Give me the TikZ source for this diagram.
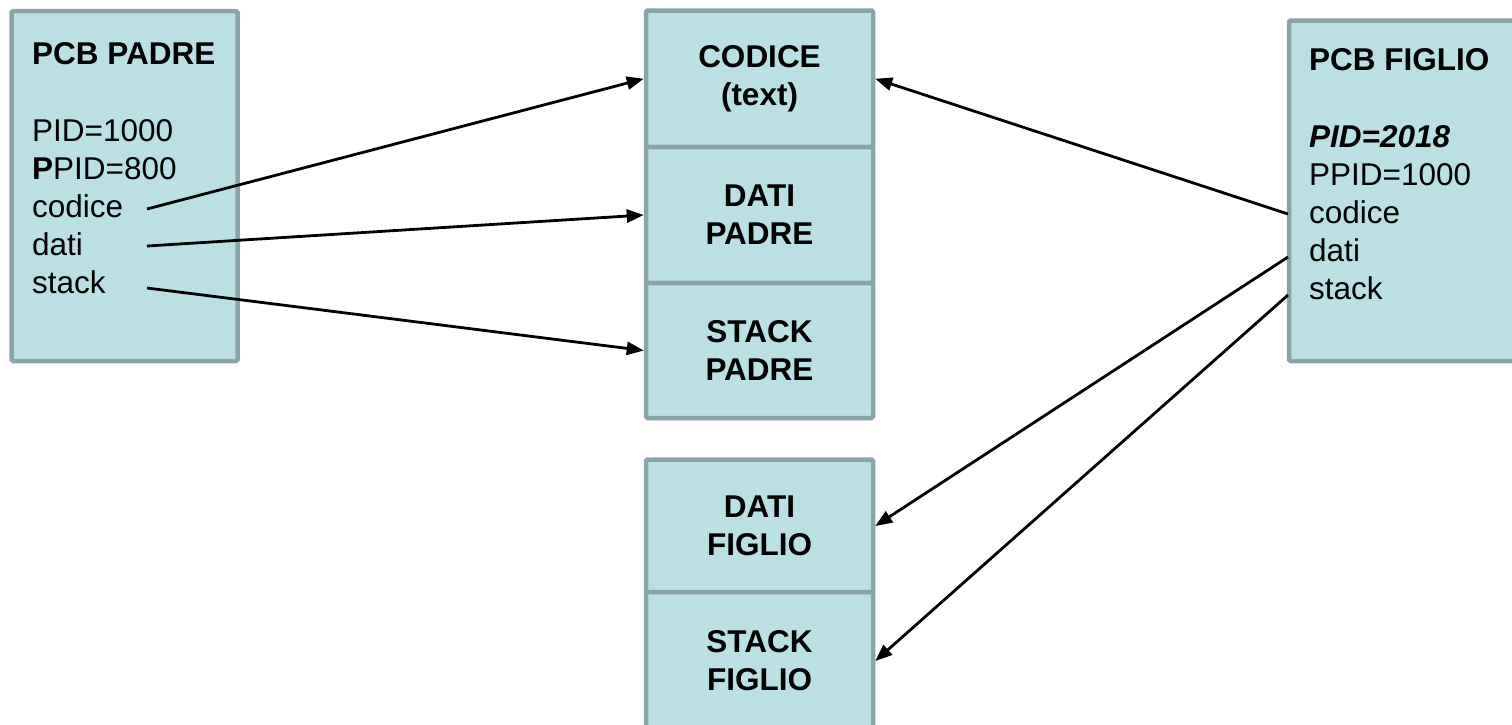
\documentclass[tikz,border=0pt]{standalone}
\usepackage{fontspec}
\setmainfont{Liberation Sans}
\usetikzlibrary{arrows.meta}
\definecolor{boxfill}{RGB}{187,224,227}
\definecolor{boxline}{RGB}{139,164,167}
\begin{document}
\begin{tikzpicture}[x=1pt,y=-1pt,
  membox/.style={draw=boxline, fill=boxfill, line width=4.5pt, rounded corners=1.5pt,
    minimum width=227pt, inner sep=0pt, font=\fontsize{31.5}{38}\selectfont\bfseries, align=center},
  pcbbox/.style={draw=boxline, fill=boxfill, line width=4.5pt, rounded corners=1.5pt, inner sep=0pt},
  txt/.style={anchor=base west, inner sep=0pt, font=\fontsize{31.5}{38}\selectfont},
  ttl/.style={anchor=base west, inner sep=0pt, font=\fontsize{31.5}{38}\selectfont\bfseries},
  link/.style={line width=2.8pt, -{Triangle[length=17pt,width=13pt]}}]
\useasboundingbox (0,0) rectangle (1512,724);
% PCB boxes
\node[pcbbox, minimum width=226pt, minimum height=350pt] (padre) at (124.5,186) {};
\node[pcbbox, minimum width=233pt, minimum height=340.5pt] (figlio) at (1405.5,190.75) {};
% memory boxes
\node[membox, minimum height=136.5pt] (codice) at (759.5,78.75) {CODICE\\(text)};
\node[membox, minimum height=136pt] (datip) at (759.5,215) {DATI\\PADRE};
\node[membox, minimum height=135pt] (stackp) at (759.5,350.5) {STACK\\PADRE};
\node[membox, minimum height=133pt] (datif) at (759.5,526) {DATI\\FIGLIO};
\node[membox, minimum height=138pt] (stackf) at (759.5,661) {STACK\\FIGLIO};
% padre text
\node[ttl] (ptitle) at (32,64) {PCB PADRE};
\node[txt] (ppid) at (32,141) {PID=1000};
\node[txt] (pppid) at (32,179) {\textbf{P}PID=800};
\node[txt] (pcod) at (32,217) {codice};
\node[txt] (pdat) at (32,255) {dati};
\node[txt] (pstk) at (32,293) {stack};
% figlio text
\node[ttl] (ftitle) at (1309,70) {PCB FIGLIO};
\node[ttl] (fpid) at (1309,147) {\itshape PID=2018};
\node[txt] (fppid) at (1309,185) {PPID=1000};
\node[txt] (fcod) at (1309,223) {codice};
\node[txt] (fdat) at (1309,261) {dati};
\node[txt] (fstk) at (1309,299) {stack};
% connector start points
\coordinate (a1) at (147,209);
\coordinate (a2) at (147,246);
\coordinate (a3) at (147,288);
\coordinate (b1) at (1288,214);
\coordinate (b2) at (1288,257);
\coordinate (b3) at (1288,295);
% connectors
\draw[link] (a1) -- (codice.west);
\draw[link] (a2) -- (datip.west);
\draw[link] (a3) -- (stackp.west);
\draw[link] (b1) -- (codice.east);
\draw[link] (b2) -- (datif.east);
\draw[link] (b3) -- (stackf.east);
\end{tikzpicture}
\end{document}
